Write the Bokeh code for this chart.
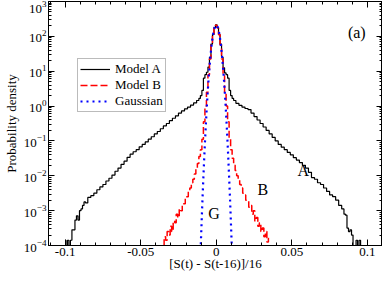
import numpy as np
from bokeh.plotting import figure
from bokeh.models import (LinearAxis, LogAxis, Range1d, Legend, LegendItem,
                          FixedTicker, Label, CustomJSTickFormatter)
from bokeh.embed import file_html
from bokeh.resources import INLINE

FONT = "Liberation Serif"

# ---------------- data ----------------
X_TICKS = [-0.1, -0.05, 0.0, 0.05, 0.1]
X_TICK_LABELS = ["-0.1", "-0.05", "0", "0.05", "0.1"]
Y_TICKS = [1e-4, 1e-3, 1e-2, 1e-1, 1e0, 1e1, 1e2, 1e3]

# Model A: bin centres and log10(probability density); -6 means empty bin
A_X = [-0.100, -0.099, -0.098, -0.097, -0.096, -0.095, -0.094, -0.093, -0.092,
       -0.091, -0.090, -0.089, -0.088, -0.087, -0.086, -0.084, -0.082, -0.080,
       -0.078, -0.076, -0.074, -0.072, -0.070, -0.068, -0.066, -0.064, -0.062,
       -0.060, -0.058, -0.056, -0.054, -0.052, -0.050, -0.048, -0.046, -0.044,
       -0.042, -0.040, -0.038, -0.036, -0.034, -0.032, -0.030, -0.028, -0.026,
       -0.024, -0.022, -0.020, -0.018, -0.016, -0.014, -0.012, -0.011, -0.010,
       -0.009, -0.008, -0.007, -0.006, -0.005, -0.004, -0.003, -0.002, -0.001,
       0.000, 0.001, 0.002, 0.003, 0.004, 0.005, 0.006, 0.007, 0.008, 0.009,
       0.010, 0.011, 0.012, 0.014, 0.016, 0.018, 0.020, 0.022, 0.024, 0.026,
       0.028, 0.030, 0.032, 0.034, 0.036, 0.038, 0.040, 0.042, 0.044, 0.046,
       0.048, 0.050, 0.052, 0.054, 0.056, 0.058, 0.060, 0.062, 0.064, 0.066,
       0.068, 0.070, 0.072, 0.074, 0.076, 0.078, 0.080, 0.082, 0.084, 0.085,
       0.086, 0.087, 0.088, 0.089, 0.090, 0.091, 0.092, 0.093, 0.094, 0.095,
       0.096]
A_LOG = [-3.85, -6.0, -3.85, -6.0, -3.85, -3.55, -3.55, -3.27, -3.15,
         -3.27, -3.0, -2.95, -2.85, -2.75, -2.78, -2.62, -2.57, -2.5,
         -2.4, -2.32, -2.25, -2.15, -2.07, -1.98, -1.87, -1.78, -1.67,
         -1.58, -1.47, -1.38, -1.31, -1.25, -1.17, -1.1, -1.03, -0.95,
         -0.88, -0.8, -0.73, -0.65, -0.57, -0.5, -0.42, -0.35, -0.28,
         -0.2, -0.14, -0.08, -0.03, 0.03, 0.09, 0.16, 0.22, 0.3,
         0.45, 0.8, 0.9, 0.97, 1.12, 1.4, 1.78, 2.05, 2.25,
         2.33, 2.25, 2.05, 1.78, 1.4, 1.1, 0.95, 0.9, 0.8, 0.45,
         0.3, 0.22, 0.16, 0.08, 0.02, -0.03, -0.07, -0.1, -0.2, -0.3,
         -0.4, -0.5, -0.6, -0.7, -0.8, -0.9, -1.0, -1.1, -1.18, -1.25,
         -1.33, -1.4, -1.48, -1.55, -1.62, -1.7, -1.78, -1.9, -2.05, -2.1,
         -2.2, -2.25, -2.35, -2.45, -2.55, -2.6, -2.7, -2.85, -2.95, -3.1,
         -3.13, -3.5, -3.6, -3.55, -3.7, -6.0, -6.0, -3.85, -6.0, -3.85,
         -6.0]

# Model B
B_X = [round(-0.035 + 0.001 * i, 3) for i in range(71)]
B_LOG = [-4.0, -3.75, -3.85, -3.6, -3.7, -3.45, -3.6, -3.3, -3.35, -3.1,
         -3.2, -2.95, -3.0, -2.8, -2.8, -2.6, -2.6, -2.45, -2.35, -2.2,
         -2.1, -1.95, -1.8, -1.65, -1.45, -1.25, -0.95, -0.45, 0.0, 0.4,
         0.9, 1.35, 1.75, 2.05, 2.25, 2.32,
         2.25, 2.05, 1.75, 1.35, 0.9, 0.4, 0.0, -0.45, -0.95, -1.25,
         -1.5, -1.7, -1.85, -2.0, -2.1, -2.25, -2.35, -2.5, -2.55, -2.7,
         -2.7, -2.9, -2.85, -3.1, -3.0, -3.3, -3.2, -3.45, -3.35, -3.6,
         -3.5, -3.75, -3.6, -3.9, -3.8]

# Gaussian
G_X = [-0.0105, -0.010, -0.0095, -0.009, -0.0085, -0.008, -0.0075, -0.007,
       -0.0065, -0.006, -0.0055, -0.005, -0.0045, -0.004, -0.0035, -0.003,
       -0.0025, -0.002, -0.0015, -0.001, -0.0005, 0.0, 0.0005, 0.001, 0.0015,
       0.002, 0.0025, 0.003, 0.0035, 0.004, 0.0045, 0.005, 0.0055, 0.006,
       0.0065, 0.007, 0.0075, 0.008, 0.0085, 0.009, 0.0095, 0.010, 0.0105]
G_LOG = [-4.31, -3.70, -3.11, -2.55, -2.03, -1.53, -1.06, -0.63,
         -0.22, 0.16, 0.50, 0.82, 1.10, 1.36, 1.58, 1.78,
         1.94, 2.08, 2.19, 2.26, 2.31, 2.32, 2.31, 2.26, 2.19,
         2.08, 1.94, 1.78, 1.58, 1.36, 1.10, 0.82, 0.50, 0.16,
         -0.22, -0.63, -1.06, -1.53, -2.03, -2.55, -3.11, -3.70, -4.31]

A_Y = [10.0 ** v for v in A_LOG]
B_Y = [10.0 ** v for v in B_LOG]
G_Y = [10.0 ** v for v in G_LOG]

X_TITLE = "[S(t) - S(t-16)]/16"
Y_TITLE = "Probability density"

# ---------------- figure ----------------
X_MIN, X_MAX = -0.111, 0.110
Y_MIN, Y_MAX = 1e-4, 1e3

p = figure(width=382, height=273, output_backend="svg", toolbar_location=None,
           y_axis_type="log", x_range=Range1d(X_MIN, X_MAX),
           y_range=Range1d(Y_MIN, Y_MAX),
           min_border_left=35, min_border_right=0, min_border_top=1,
           min_border_bottom=20)
p.xgrid.visible = False
p.ygrid.visible = False
p.outline_line_color = "black"
p.outline_line_width = 1
p.background_fill_color = "white"
p.border_fill_color = "white"

x_minor = [round(-0.11 + 0.01 * i, 2) for i in range(23)]
y_minor = [m * 10.0 ** e for e in range(-4, 3) for m in range(2, 10)]
xt = FixedTicker(ticks=X_TICKS, minor_ticks=x_minor)
yt = FixedTicker(ticks=Y_TICKS, minor_ticks=y_minor)


def style(ax):
    ax.major_tick_in = 6
    ax.major_tick_out = 0
    ax.minor_tick_in = 3
    ax.minor_tick_out = 0
    ax.axis_line_color = "black"
    ax.major_tick_line_color = "black"
    ax.minor_tick_line_color = "black"
    ax.major_label_text_font = FONT
    ax.major_label_text_font_size = "13px"
    ax.major_label_text_color = "black"
    ax.axis_label_text_font = FONT
    ax.axis_label_text_font_size = "13px"
    ax.axis_label_text_font_style = "normal"
    ax.axis_label_text_color = "black"
    ax.major_label_standoff = 2
    ax.axis_label_standoff = 3


xa = p.xaxis[0]
xa.ticker = xt
xa.major_label_overrides = {t: l for t, l in zip(X_TICKS, X_TICK_LABELS)}
xa.axis_label = X_TITLE
style(xa)
xa.major_label_text_line_height = 1.0
xa.axis_label_text_line_height = 1.0
xa.major_label_standoff = 2
xa.axis_label_standoff = -3

ya = p.yaxis[0]
ya.ticker = yt
ya.axis_label = Y_TITLE
style(ya)
ya.axis_label_standoff = 2

blank = CustomJSTickFormatter(code="return '';")
top = LinearAxis(ticker=xt, formatter=blank)
style(top)
top.major_label_standoff = 0
p.add_layout(top, "above")
right = LogAxis(ticker=yt, formatter=blank)
style(right)
right.major_label_standoff = 0
p.add_layout(right, "right")

ra = p.step(A_X, A_Y, mode="center", line_color="black", line_width=1.2)
rb = p.step(B_X, B_Y, mode="center", line_color="#ff0000", line_width=1.5,
            line_dash="7 3")
rg = p.line(G_X, G_Y, line_color="#0000ff", line_width=2.2, line_dash="2 4")

legend = Legend(items=[LegendItem(label="Model A", renderers=[ra]),
                       LegendItem(label="Model B", renderers=[rb]),
                       LegendItem(label="Gaussian", renderers=[rg])],
                location=(29, 133))
legend.label_text_font = FONT
legend.label_text_font_size = "13px"
legend.label_text_color = "black"
legend.border_line_color = "#777777"
legend.border_line_width = 1.5
legend.padding = 2
legend.spacing = 0
legend.margin = 0
legend.glyph_width = 30
legend.glyph_height = 10
legend.label_height = 10
legend.label_standoff = 5
legend.background_fill_alpha = 1.0
p.add_layout(legend, "center")

for txt, xx, yy in [("(a)", 0.093, 126.0), ("A", 0.0575, 0.014),
                    ("B", 0.0308, 0.004), ("G", -0.0014, 8.3e-4)]:
    p.add_layout(Label(x=xx, y=yy, text=txt, text_font=FONT,
                       text_font_size="16px", text_align="center",
                       text_baseline="middle", text_color="black"))

open("out.html", "w").write(file_html(p, INLINE))
